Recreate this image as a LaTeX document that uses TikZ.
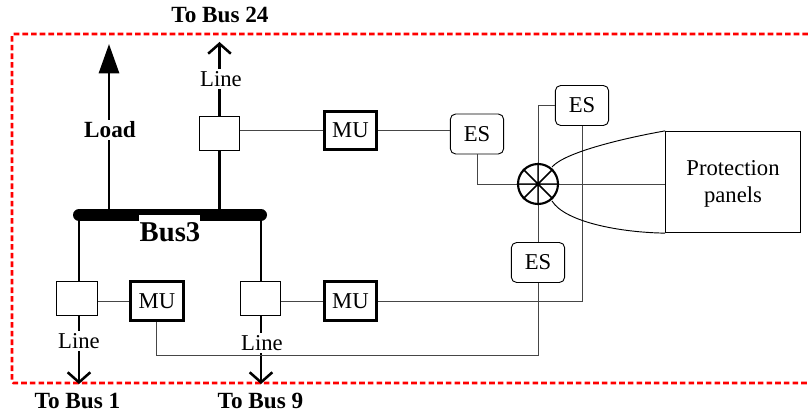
\documentclass[tikz,border=0pt]{standalone}
\usepackage{fontspec}
\setmainfont{Liberation Serif}
\usetikzlibrary{arrows.meta}
\definecolor{redline}{RGB}{255,0,0}
\definecolor{thinw}{RGB}{70,70,70}
\tikzset{
  x=0.75pt,y=-0.75pt,
  busline/.style={line width=2.2pt,draw=black},
  wire/.style={line width=0.7pt,draw=thinw},
  brk/.style={draw=black,line width=0.9pt,fill=white,minimum width=30.5pt,minimum height=26pt,inner sep=0pt},
  mu/.style={draw=black,line width=2.2pt,fill=white,minimum width=39.5pt,minimum height=29pt,inner sep=0pt,font=\fontsize{17}{17}\selectfont},
  es/.style={draw=black,line width=0.7pt,fill=white,rounded corners=4pt,minimum width=40pt,minimum height=30pt,inner sep=0pt,font=\fontsize{17}{17}\selectfont},
  lbl/.style={font=\fontsize{17}{17}\selectfont,fill=white,inner sep=1.5pt},
  blbl/.style={font=\fontsize{17.4}{18}\selectfont\bfseries,inner sep=0pt},
  openarrow/.style={line width=2.2pt,-{Straight Barb[length=7.5pt,width=17pt,line width=1.9pt]}},
}
\begin{document}
\begin{tikzpicture}
\useasboundingbox (0,0) rectangle (808,416);
\coordinate (rTR) at (808,34);
\coordinate (rTL) at (12,34);
\coordinate (rBL) at (12,383);
\coordinate (rBR) at (808,383);
\draw[redline,line width=1.9pt,dash pattern=on 4.2pt off 2.3pt,rounded corners=1pt] (rTR) -- (rTL) -- (rBL) -- (rBR);
% bus anchors
\coordinate (busL) at (79,215);
\coordinate (busR) at (261,215);
\coordinate (loadB) at (109,215);
\coordinate (lineB) at (219.5,215);
\coordinate (loadTip) at (109,44);
\coordinate (t24) at (219.5,42);
\coordinate (t1) at (79,384);
\coordinate (t9) at (261,384);
% nodes
\node[brk] (b24) at (219.5,133.5) {};
\node[brk] (b1) at (77,298.5) {};
\node[brk] (b9) at (260.5,298.5) {};
\node[mu] (mu24) at (350.5,130.5) {MU};
\node[mu] (mu1) at (157,301) {MU};
\node[mu] (mu9) at (350.5,301) {MU};
\node[es] (es1) at (477,134) {ES};
\node[es] (es2) at (582,105.5) {ES};
\node[es] (es3) at (538,262.5) {ES};
\node[draw=black,line width=0.7pt,minimum width=101pt,minimum height=76pt,inner sep=0pt] (panel) at (733,182) {};
\node[align=center,font=\fontsize{17}{20}\selectfont,inner sep=0pt] (ptext) at (733,184) {Protection\\panels};
\coordinate (hub) at (538,184);
\coordinate (hubNE) at (552,167);
\coordinate (hubSE) at (552,201);
\coordinate (c1) at (477,184);
\coordinate (c2) at (538,105.5);
\coordinate (c3) at (582,301);
\coordinate (c4) at (538,355);
\coordinate (c5) at (156,355);
% thick lines
\draw[busline,-{Triangle[length=22pt,width=15pt]}] (loadB) -- (loadTip);
\draw[busline] (lineB) -- (b24.south);
\draw[openarrow] (b24.north) -- (t24);
\draw[busline] (busL) -- (busL |- b1.north);
\draw[busline] (busR) -- (busR |- b9.north);
\draw[openarrow] (busL |- b1.south) -- (t1);
\draw[openarrow] (busR |- b9.south) -- (t9);
% thin wires
\draw[wire] (b24.east |- mu24) -- (mu24.west);
\draw[wire] (mu24.east) -- (es1.west |- mu24);
\draw[wire] (b1.east |- mu1) -- (mu1.west);
\draw[wire] (b9.east |- mu9) -- (mu9.west);
\draw[wire] (mu9.east) -- (c3) -- (es2.south);
\draw[wire] (mu1.south -| c5) -- (c5) -- (c4) -- (es3.south);
\draw[wire] (es3.north) -- (hub);
\draw[wire] (es1.south) -- (c1) -- (hub);
\draw[wire] (hub) -- (c2) -- (es2.west);
\draw[wire] (hub) -- (panel.west |- hub);
% curves to panel
\draw[line width=0.7pt] (hubNE) .. controls (565,152) and (625,138) .. (panel.north west);
\draw[line width=0.7pt] (hubSE) .. controls (565,222) and (620,232.5) .. (panel.south west);
% crossed circle
\node[circle,draw=black,line width=1.6pt,minimum size=30pt,inner sep=0pt] (xc) at (hub) {};
\draw[line width=1.1pt] (xc.north) -- (xc.south) (xc.west) -- (xc.east) (xc.45) -- (xc.225) (xc.135) -- (xc.315);
% bus
\draw[black,line width=9pt,line cap=round] (busL) -- (busR);
\node[fill=white,minimum width=45.5pt,minimum height=5.5pt,inner sep=0pt,anchor=north] (gap) at (169.5,215) {};
\node[font=\fontsize{21.5}{22}\selectfont\bfseries,inner sep=0pt] (bus3) at (170,232) {Bus3};
% labels
\node[blbl,fill=white,inner sep=1.5pt] (load) at (110,130) {Load};
\node[lbl] (line24) at (221,79) {Line};
\node[lbl] (line1) at (79,341) {Line};
\node[lbl] (line9) at (262,343) {Line};
\node[blbl] (to24) at (220,15) {To Bus 24};
\node[blbl] (to1) at (77.5,401) {To Bus 1};
\node[blbl] (to9) at (260.5,401) {To Bus 9};
\end{tikzpicture}
\end{document}
